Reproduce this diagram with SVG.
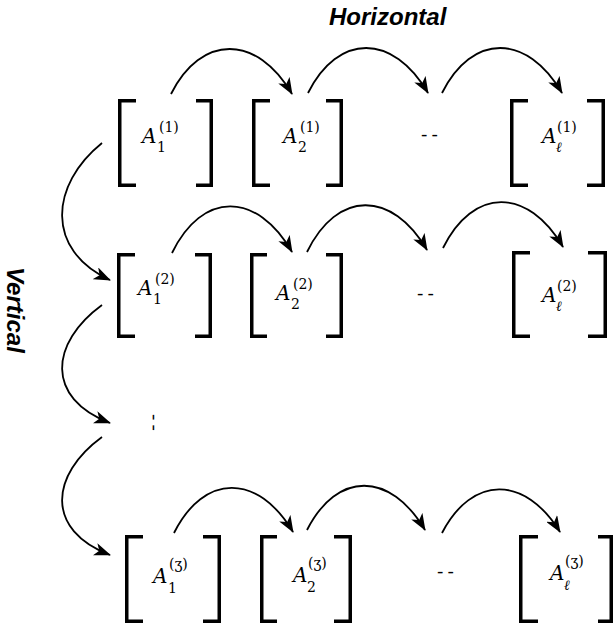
<svg xmlns="http://www.w3.org/2000/svg" width="616" height="628" viewBox="0 0 616 628">
<defs>
<marker id="ah" markerUnits="userSpaceOnUse" markerWidth="17" markerHeight="13" viewBox="0 0 17 13" refX="16" refY="6.5" orient="auto">
<path d="M0,0 L17,6.5 L0,13 L4.5,6.5 z" fill="#000"/>
</marker>
</defs>
<style>
.br{fill:none;stroke:#000;stroke-width:3.5;stroke-linejoin:miter;stroke-linecap:butt}
.ar{fill:none;stroke:#000;stroke-width:1.8;marker-end:url(#ah)}
.m{font-family:'DejaVu Serif','Liberation Serif',serif}
.A{font-style:italic;font-size:20px}
.s{font-size:14px}
.si{font-style:italic;font-size:14px}
.d{font-size:19px;letter-spacing:4px}
.lab{font-family:'Liberation Sans',Arial,Helvetica,sans-serif;font-weight:bold;font-style:italic;font-size:24px}
</style>
<rect width="616" height="628" fill="#fff"/>
<text class="lab" x="329" y="25">Horizontal</text>
<text class="lab" x="7" y="267" transform="rotate(90 7 267)">Vertical</text>

<g id="n11" class="m"><path class="br" d="M136,100.75H119.75V185.25H136M196,100.75H211.25V185.25H196"/>
<text class="A" x="142" y="143">A</text><text class="s" x="157" y="152">1</text><text class="s" x="159" y="132">(1)</text></g>
<g id="n12" class="m"><path class="br" d="M270,100.75H253.75V185.25H270M326,100.75H341.25V185.25H326"/>
<text class="A" x="283" y="143">A</text><text class="s" x="298" y="152">2</text><text class="s" x="300" y="132">(1)</text></g>
<g id="d1" class="m"><text class="d" x="421" y="141">--</text></g>
<g id="n1l" class="m"><path class="br" d="M528,100.75H511.75V185.25H528M587,100.75H603.25V185.25H587"/>
<text class="A" x="542" y="143">A</text><text class="si" x="556" y="152">ℓ</text><text class="s" x="557" y="132">(1)</text></g>

<g id="n21" class="m"><path class="br" d="M135,254.75H118.75V336.25H135M195,254.75H210.25V336.25H195"/>
<text class="A" x="138" y="295">A</text><text class="s" x="153" y="304">1</text><text class="s" x="155" y="284">(2)</text></g>
<g id="n22" class="m"><path class="br" d="M267,254.75H251.75V336.25H267M326,254.75H341.25V336.25H326"/>
<text class="A" x="276" y="300">A</text><text class="s" x="291" y="309">2</text><text class="s" x="293" y="289">(2)</text></g>
<g id="d2" class="m"><text class="d" x="417" y="300">--</text></g>
<g id="n2l" class="m"><path class="br" d="M530,252.75H513.75V336.25H530M588,252.75H605.25V336.25H588"/>
<text class="A" x="542" y="302">A</text><text class="si" x="556" y="311">ℓ</text><text class="s" x="557" y="291">(2)</text></g>

<g id="dv" class="m"><text class="d" transform="translate(148 414) rotate(90)">--</text></g>

<g id="n31" class="m"><path class="br" d="M143,536.75H126.75V621.25H143M203,536.75H219.25V621.25H203"/>
<text class="A" x="153" y="583">A</text><text class="s" x="168" y="593">1</text><text class="s" x="169" y="569">(ʒ)</text></g>
<g id="n32" class="m"><path class="br" d="M277,536.75H261.75V621.25H277M334,536.75H350.25V621.25H334"/>
<text class="A" x="293" y="582">A</text><text class="s" x="307" y="592">2</text><text class="s" x="308" y="568">(ʒ)</text></g>
<g id="d3" class="m"><text class="d" x="437" y="578">--</text></g>
<g id="n3l" class="m"><path class="br" d="M538,536.75H520.75V621.25H538M598,536.75H611.25V621.25H598"/>
<text class="A" x="550" y="580">A</text><text class="si" x="564" y="590">ℓ</text><text class="s" x="565" y="566">(ʒ)</text></g>

<g id="connectors">
<path class="ar" d="M171,94 C201,34 257,34 292,94"/>
<path class="ar" d="M308,93 C338,33 393,33 428,93"/>
<path class="ar" d="M442,93 C472,33 527,33 562,93"/>
<path class="ar" d="M172,253 C202,191 257,191 292,252"/>
<path class="ar" d="M307,252 C337,190 392,190 427,250"/>
<path class="ar" d="M443,248 C473,187 528,187 563,247"/>
<path class="ar" d="M174,533 C204,473 258,473 293,532"/>
<path class="ar" d="M307,530 C337,471 390,471 425,530"/>
<path class="ar" d="M442,533 C472,475 525,475 560,532"/>
<path class="ar" d="M102,143 C50,185 45,250 110,280"/>
<path class="ar" d="M102,305 C50,343 45,398 110,423"/>
<path class="ar" d="M102,437 C50,475 45,530 110,555"/>
</g>
</svg>
